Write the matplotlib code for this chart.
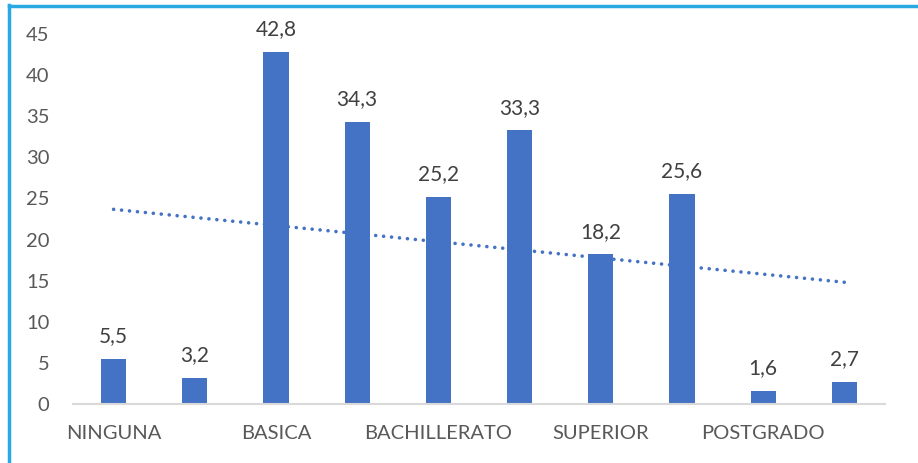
import numpy as np
import matplotlib
matplotlib.use("Agg")
import matplotlib.pyplot as plt
from matplotlib.lines import Line2D

# data
valores = [5.5, 3.2, 42.8, 34.3, 25.2, 33.3, 18.2, 25.6, 1.6, 2.7]
etiquetas = ["NINGUNA", "", "BASICA", "", "BACHILLERATO", "", "SUPERIOR", "", "POSTGRADO", ""]
yticks = [0, 5, 10, 15, 20, 25, 30, 35, 40, 45]

azul = "#4472C4"
plt.rcParams['font.family'] = ['Lato', 'DejaVu Sans']

fig = plt.figure(figsize=(9.18, 4.63), dpi=100)
ax = fig.add_axes([73/918, 59/463, 812/918, 370/463])

x = np.arange(len(valores))

# linea de tendencia (lineal), detras de las barras
m, b = np.polyfit(x, valores, 1)
ax.plot(x, m*x + b, color=azul, lw=2.6, linestyle=(0, (0.01, 2.2)),
        dash_capstyle='round', zorder=1)

ax.bar(x, valores, width=0.31, color=azul, zorder=2)

for xi, v in zip(x, valores):
    ax.annotate(("%.1f" % v).replace(".", ","), (xi, v), xytext=(0, 9),
                textcoords="offset points", ha="center", va="bottom",
                fontsize=15, color="#404040")

ax.set_xlim(-0.5, len(valores) - 0.5)
ax.set_ylim(0, 45)
ax.set_yticks(yticks)
ax.set_xticks(x)
ax.set_xticklabels(etiquetas)
ax.tick_params(axis="both", length=0, labelsize=14.5, labelcolor="#595959")
ax.tick_params(axis="x", pad=15)
ax.tick_params(axis="y", pad=17)

for s in ["top", "right", "left"]:
    ax.spines[s].set_visible(False)
ax.spines["bottom"].set_color("#D9D9D9")
ax.spines["bottom"].set_linewidth(1.5)

# marco azul (izquierda y arriba)
borde = "#29A9E1"
fig.add_artist(Line2D([9/918, 9/918], [0, 1 - 5/463], color=borde, lw=2.5,
                      transform=fig.transFigure))
fig.add_artist(Line2D([9/918, 1], [1 - 6/463, 1 - 6/463], color=borde, lw=2.5,
                      transform=fig.transFigure))

fig.savefig("out.png", dpi=100)
